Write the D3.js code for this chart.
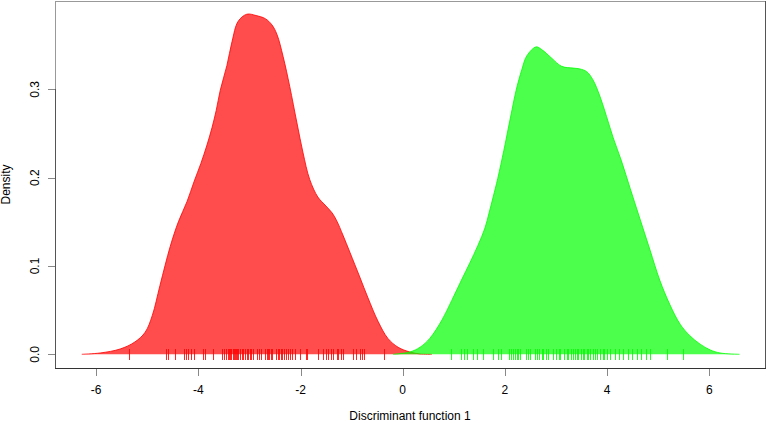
<!DOCTYPE html>
<html><head><meta charset="utf-8">
<script src="https://cdn.jsdelivr.net/npm/d3@7/dist/d3.min.js"></script>
<style>html,body{margin:0;padding:0;background:#fff;}svg{display:block;}text{font-family:"Liberation Sans",Arial,sans-serif;font-size:12px;fill:#000;}</style>
</head><body><svg id="c" width="767" height="423"></svg>
<script>
const xTicks = [-6,-4,-2,0,2,4,6];
const yTicks = [0.0,0.1,0.2,0.3];
const yTickLabels = ["0.0","0.1","0.2","0.3"];
const xLabel = "Discriminant function 1";
const yLabel = "Density";

const redX = [-6.28,-5.92,-5.53,-5.24,-5.04,-4.90,-4.75,-4.55,-4.39,-4.22,-4.08,-3.95,-3.83,-3.73,-3.65,-3.57,-3.44,-3.34,-3.22,-3.05,-2.87,-2.69,-2.56,-2.46,-2.34,-2.21,-2.07,-1.95,-1.82,-1.66,-1.52,-1.38,-1.29,-1.17,-1.03,-0.84,-0.68,-0.48,-0.29,-0.09,0.14,0.34,0.57];
const redY = [0,0.0015,0.006,0.014,0.025,0.044,0.078,0.122,0.150,0.173,0.196,0.216,0.237,0.257,0.276,0.299,0.327,0.354,0.377,0.385,0.3835,0.380,0.373,0.362,0.337,0.303,0.262,0.228,0.198,0.178,0.169,0.160,0.151,0.135,0.115,0.0875,0.064,0.037,0.018,0.008,0.0026,0.0004,0];

const greenX = [-0.19,0.14,0.34,0.53,0.77,0.96,1.15,1.31,1.47,1.61,1.69,1.77,1.86,1.98,2.06,2.14,2.22,2.33,2.43,2.61,2.72,2.92,3.11,3.34,3.47,3.60,3.72,3.86,3.99,4.12,4.28,4.45,4.65,4.84,5.03,5.23,5.43,5.62,5.82,6.02,6.21,6.59];
const greenY = [0,0.0026,0.008,0.018,0.039,0.061,0.084,0.103,0.123,0.143,0.160,0.178,0.199,0.231,0.254,0.277,0.299,0.322,0.338,0.348,0.345,0.335,0.326,0.324,0.323,0.320,0.311,0.292,0.269,0.245,0.219,0.188,0.152,0.118,0.084,0.056,0.034,0.021,0.0115,0.0049,0.0015,0];

const redRug = [-5.35,-4.63,-4.59,-4.46,-4.28,-4.24,-4.21,-4.14,-4.08,-3.91,-3.86,-3.71,-3.54,-3.50,-3.46,-3.42,-3.40,-3.38,-3.36,-3.33,-3.31,-3.29,-3.27,-3.25,-3.22,-3.18,-3.15,-3.12,-3.09,-3.05,-3.02,-2.99,-2.96,-2.92,-2.86,-2.81,-2.77,-2.69,-2.66,-2.63,-2.61,-2.58,-2.56,-2.48,-2.45,-2.42,-2.39,-2.36,-2.32,-2.29,-2.25,-2.21,-2.16,-2.11,-2.01,-1.89,-1.87,-1.66,-1.55,-1.50,-1.46,-1.41,-1.36,-1.29,-1.26,-1.21,-1.17,-0.98,-0.91,-0.84,-0.80,-0.75,-0.37];
const greenRug = [0.94,1.15,1.20,1.26,1.37,1.46,1.57,1.76,1.87,1.92,2.09,2.12,2.15,2.20,2.23,2.26,2.30,2.41,2.46,2.50,2.59,2.63,2.67,2.72,2.75,2.80,2.85,2.95,3.00,3.05,3.08,3.16,3.21,3.24,3.29,3.33,3.37,3.41,3.44,3.48,3.52,3.55,3.60,3.63,3.67,3.72,3.76,3.81,3.86,3.91,3.94,3.99,4.06,4.15,4.24,4.32,4.40,4.48,4.59,4.66,4.77,4.84,5.17,5.49];

const svg = d3.select("#c");
const L = 55, R = 765, T = 1, B = 368;
const x = d3.scaleLinear().domain([0, 6]).range([402.7, 709.3]);
const y = d3.scaleLinear().domain([0, 0.3]).range([354.3, 89.3]);

// box
const g0 = svg.append("g").attr("shape-rendering","crispEdges");
g0.append("line").attr("x1",L).attr("x2",R).attr("y1",T+0.5).attr("y2",T+0.5).attr("stroke","#999");
g0.append("line").attr("x1",R+0.5).attr("x2",R+0.5).attr("y1",T).attr("y2",B).attr("stroke","#555");
g0.append("line").attr("x1",L+0.5).attr("x2",L+0.5).attr("y1",T).attr("y2",B).attr("stroke","#999");
g0.append("line").attr("x1",L).attr("x2",R+1).attr("y1",B+0.5).attr("y2",B+0.5).attr("stroke","#333");
g0.append("line").attr("x1",L+0.5).attr("x2",L+0.5).attr("y1",y(0.3)).attr("y2",B).attr("stroke","#555");

// densities
function drawDens(xs, ys, fill, stroke){
  const pts = xs.map((v,i)=>[v, ys[i]]);
  const cv = d3.curveCatmullRom.alpha(0.5);
  const area = d3.area().x(d=>x(d[0])).y0(y(0)).y1(d=>y(Math.max(0,d[1]))).curve(cv);
  const line = d3.line().x(d=>x(d[0])).y(d=>y(d[1])).curve(cv);
  svg.append("path").attr("d", area(pts)).attr("fill", fill).attr("fill-opacity",0.7);
  svg.append("path").attr("d", line(pts)).attr("fill","none").attr("stroke", stroke).attr("stroke-width",1).attr("stroke-opacity",0.8);
}
drawDens(redX, redY, "#ff0000", "#ff0000");
drawDens(greenX, greenY, "#00ff00", "#00ff00");

// rugs
const rg = svg.append("g").attr("shape-rendering","crispEdges");
rg.selectAll(".rr").data(redRug).join("line").attr("x1",d=>Math.round(x(d))+0.5).attr("x2",d=>Math.round(x(d))+0.5)
  .attr("y1",349).attr("y2",360).attr("stroke","#ff0000").attr("stroke-opacity",0.85);
rg.selectAll(".gr").data(greenRug).join("line").attr("x1",d=>Math.round(x(d))+0.5).attr("x2",d=>Math.round(x(d))+0.5)
  .attr("y1",349).attr("y2",360).attr("stroke","#00ff00").attr("stroke-opacity",0.85);

// x axis ticks
const ax = svg.append("g");
ax.selectAll("line").data(xTicks).join("line").attr("shape-rendering","crispEdges")
  .attr("x1",d=>Math.round(x(d))+0.5).attr("x2",d=>Math.round(x(d))+0.5).attr("y1",B+1).attr("y2",B+8).attr("stroke","#888");
ax.selectAll("text").data(xTicks).join("text").attr("x",d=>x(d)).attr("y",394).attr("text-anchor","middle").text(d=>d);

// y axis ticks
const ay = svg.append("g");
ay.selectAll("line").data(yTicks).join("line").attr("shape-rendering","crispEdges")
  .attr("x1",48).attr("x2",L).attr("y1",d=>Math.round(y(d))+0.5).attr("y2",d=>Math.round(y(d))+0.5).attr("stroke","#888");
ay.selectAll("text").data(yTicks).join("text")
  .attr("transform",(d)=>`translate(38.5,${y(d)}) rotate(-90)`).attr("text-anchor","middle").text((d,i)=>yTickLabels[i]);

svg.append("text").attr("x",(L+R)/2).attr("y",420).attr("text-anchor","middle").text(xLabel);
svg.append("text").attr("transform",`translate(9.5,${(T+B)/2}) rotate(-90)`).attr("text-anchor","middle").text(yLabel);
</script></body></html>
